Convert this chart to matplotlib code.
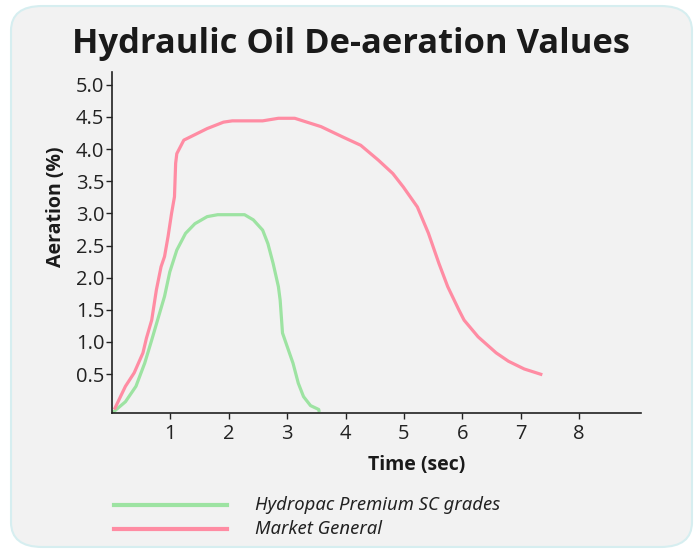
import matplotlib
matplotlib.use("Agg")
import matplotlib.pyplot as plt
from matplotlib.patches import FancyBboxPatch
from matplotlib.lines import Line2D

# ---- data ----
premium_time = [0.01, 0.23, 0.41, 0.56, 0.68, 0.78, 0.90, 0.99, 1.11, 1.26, 1.42, 1.63, 1.81,
                2.27, 2.42, 2.58, 2.67, 2.76, 2.85, 2.88, 2.92, 3.00, 3.10, 3.19, 3.28, 3.40, 3.54, 3.55]
premium_aer = [-0.10, 0.07, 0.31, 0.67, 1.03, 1.34, 1.71, 2.09, 2.43, 2.69, 2.84, 2.95, 2.98,
               2.98, 2.90, 2.74, 2.53, 2.22, 1.86, 1.65, 1.14, 0.93, 0.67, 0.36, 0.15, 0.01, -0.05, -0.09]

market_time = [0.04, 0.23, 0.38, 0.53, 0.59, 0.68, 0.76, 0.84, 0.90, 0.96, 1.02, 1.07, 1.09, 1.11,
               1.23, 1.63, 1.91, 2.06, 2.58, 2.85, 3.13, 3.58, 3.95, 4.26, 4.56, 4.81, 4.99, 5.23,
               5.42, 5.60, 5.75, 5.94, 6.03, 6.27, 6.58, 6.79, 7.06, 7.37]
market_aer = [-0.05, 0.31, 0.52, 0.83, 1.06, 1.34, 1.81, 2.17, 2.33, 2.64, 3.00, 3.26, 3.78, 3.93,
              4.14, 4.32, 4.42, 4.44, 4.44, 4.48, 4.48, 4.35, 4.19, 4.06, 3.83, 3.62, 3.41, 3.10,
              2.69, 2.22, 1.86, 1.50, 1.34, 1.08, 0.83, 0.70, 0.58, 0.49]

x_ticks = [1, 2, 3, 4, 5, 6, 7, 8]
y_ticks = [0.5, 1.0, 1.5, 2.0, 2.5, 3.0, 3.5, 4.0, 4.5, 5.0]
y_ticklabels = ["0.5", "1.0", "1.5", "2.0", "2.5", "3.0", "3.5", "4.0", "4.5", "5.0"]
series_names = ["Hydropac Premium SC grades", "Market General"]

green = "#9de3a2"
pink = "#ff8ca3"
bg = "#f2f2f2"

W, H = 697, 550
fig = plt.figure(figsize=(W / 100, H / 100), dpi=100)
fig.patch.set_facecolor("white")

# rounded panel
panel = FancyBboxPatch((11 / W, 3 / H), 681 / W, 541 / H,
                       boxstyle="round,pad=0,rounding_size=0.045",
                       transform=fig.transFigure, facecolor=bg,
                       edgecolor="#d6eef0", linewidth=1.5, zorder=-10)
fig.patches.append(panel)

fig.text(351 / W, 1 - 44 / H, "Hydraulic Oil De-aeration Values", ha="center", va="center",
         fontsize=24.8, fontweight="bold", family="Open Sans", color="#1a1a1a")

L, R, T, B = 112, 641, 72, 413
ax = fig.add_axes([L / W, 1 - B / H, (R - L) / W, (B - T) / H])
ax.set_zorder(5)
ax.set_facecolor(bg)
ax.plot(premium_time, premium_aer, color=green, lw=2.3, solid_capstyle="butt")
ax.plot(market_time, market_aer, color=pink, lw=2.3, solid_capstyle="butt")
ax.set_xlim(0, 9.06)
ax.set_ylim(-0.105, 5.2)
for s in ["top", "right"]:
    ax.spines[s].set_visible(False)
for s in ["left", "bottom"]:
    ax.spines[s].set_color("#222222")
    ax.spines[s].set_linewidth(1.2)
ax.set_xticks(x_ticks)
ax.set_xticklabels([str(t) for t in x_ticks])
ax.set_yticks(y_ticks)
ax.set_yticklabels(y_ticklabels)
ax.tick_params(axis="both", direction="out", length=4, width=1, color="#222222",
               labelsize=14.5, labelcolor="#222222")
ax.tick_params(axis="x", pad=4)
ax.tick_params(axis="y", pad=1.5)
for lab in ax.get_xticklabels() + ax.get_yticklabels():
    lab.set_family("Open Sans")
ax.set_xlabel("Time (sec)", fontsize=14, fontweight="bold", family="Open Sans",
              color="#1a1a1a", va="center")
ax.xaxis.set_label_coords((417 - L) / (R - L), -(465 - B) / (B - T))
ax.set_ylabel("Aeration (%)", fontsize=14, fontweight="bold", family="Open Sans",
              color="#1a1a1a", va="center")
ax.yaxis.set_label_coords(-(L - 56) / (R - L), (B - 207) / (B - T))

# legend
for yy, col, name in [(505, green, series_names[0]), (529, pink, series_names[1])]:
    fig.add_artist(Line2D([114 / W, 227 / W], [1 - yy / H, 1 - yy / H], color=col, lw=3,
                          transform=fig.transFigure))
    fig.text(255 / W, 1 - yy / H, name, ha="left", va="center", fontsize=13.3,
             style="italic", family="Noto Sans", color="#222222")

fig.savefig("out.png", dpi=100, facecolor="white")
